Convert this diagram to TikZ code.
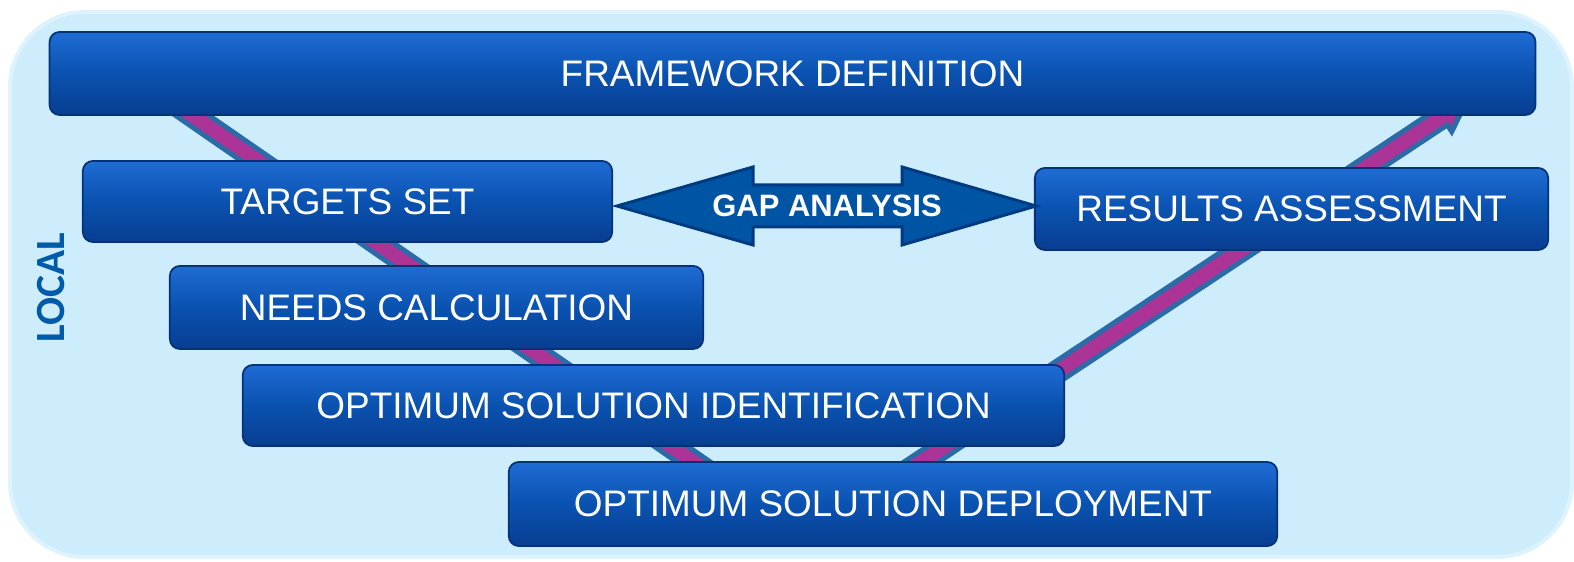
\documentclass[tikz,border=0pt]{standalone}
\usepackage{fontspec}
\setmainfont{Liberation Sans}
\newfontfamily\calibfont{Carlito}
\definecolor{bgfill}{RGB}{205,237,253}
\definecolor{bgedge}{RGB}{222,243,253}
\definecolor{boxtop}{RGB}{30,108,212}
\definecolor{boxmid}{RGB}{10,82,176}
\definecolor{boxbot}{RGB}{8,62,145}
\definecolor{boxedge}{RGB}{6,50,120}
\definecolor{bandedge}{RGB}{42,108,168}
\definecolor{bandfill}{RGB}{172,52,150}
\definecolor{gapfill}{RGB}{0,84,164}
\definecolor{gapedge}{RGB}{0,58,128}
\definecolor{localblue}{RGB}{0,90,170}
\tikzset{
  stagebox/.style={rounded corners=0.1cm, top color=boxtop, bottom color=boxbot, middle color=boxmid,
    draw=boxedge, line width=0.5pt, text=white, inner sep=0pt,
    font=\fontsize{10.5}{12}\selectfont},
  bandouter/.style={draw=bandedge, line width=0.24cm, line join=miter},
  bandinner/.style={draw=bandfill, line width=0.14cm, line join=miter},
}
\begin{document}
\begin{tikzpicture}[x=0.01cm,y=-0.01cm]
\useasboundingbox (0,0) rectangle (1574,562);
% background panel
\draw[rounded corners=0.75cm, fill=bgfill, draw=bgedge, line width=0.04cm] (10,12) rectangle (1572,557);
% V band with arrow head
\coordinate (vstart) at (141,80);
\coordinate (vbottom) at (805,539);
\coordinate (vbase) at (1442,117);
\coordinate (vbaseb) at (1444,115.7);
\coordinate (barba) at (1451.7,131.6);
\coordinate (barbb) at (1432.3,102.4);
\coordinate (vtip) at (1467,100.4);
\begin{scope}
\clip (0,0) rectangle (1574,535);
\draw[bandouter] (vstart) -- (vbottom) -- (vbase);
\draw[fill=bandfill, draw=bandedge, line width=0.05cm, line join=miter] (barba) -- (vtip) -- (barbb) -- cycle;
\draw[bandinner] (vstart) -- (vbottom) -- (vbaseb);
\end{scope}
% stage boxes
\node[stagebox, minimum width=14.85cm, minimum height=0.83cm] (fw) at (792.5,73.5) {FRAMEWORK DEFINITION};
\node[stagebox, minimum width=5.29cm, minimum height=0.81cm] (ts) at (347.5,201.5) {TARGETS SET};
\node[stagebox, minimum width=5.13cm, minimum height=0.82cm] (ra) at (1291.5,209) {RESULTS ASSESSMENT};
\node[stagebox, minimum width=5.33cm, minimum height=0.83cm] (nc) at (436.5,307.5) {NEEDS CALCULATION};
\node[stagebox, minimum width=8.21cm, minimum height=0.81cm] (osi) at (653.5,405.5) {OPTIMUM SOLUTION IDENTIFICATION};
\node[stagebox, minimum width=7.68cm, minimum height=0.84cm] (osd) at (893,504) {OPTIMUM SOLUTION DEPLOYMENT};
% gap analysis double arrow
\draw[fill=gapfill, draw=gapedge, line width=0.03cm, line join=miter]
  (617,206) -- (753,167) -- (753,185) -- (902,185) -- (902,167) -- (1036,206)
  -- (902,245) -- (902,227) -- (753,227) -- (753,245) -- cycle;
\node[text=white, font=\bfseries\fontsize{8.8}{10}\selectfont] (gap) at (827,206) {GAP ANALYSIS};
% side label
\node[rotate=90, text=localblue, font=\calibfont\bfseries\fontsize{11.8}{13}\selectfont] (local) at (51,288) {LOCAL};
\end{tikzpicture}
\end{document}
